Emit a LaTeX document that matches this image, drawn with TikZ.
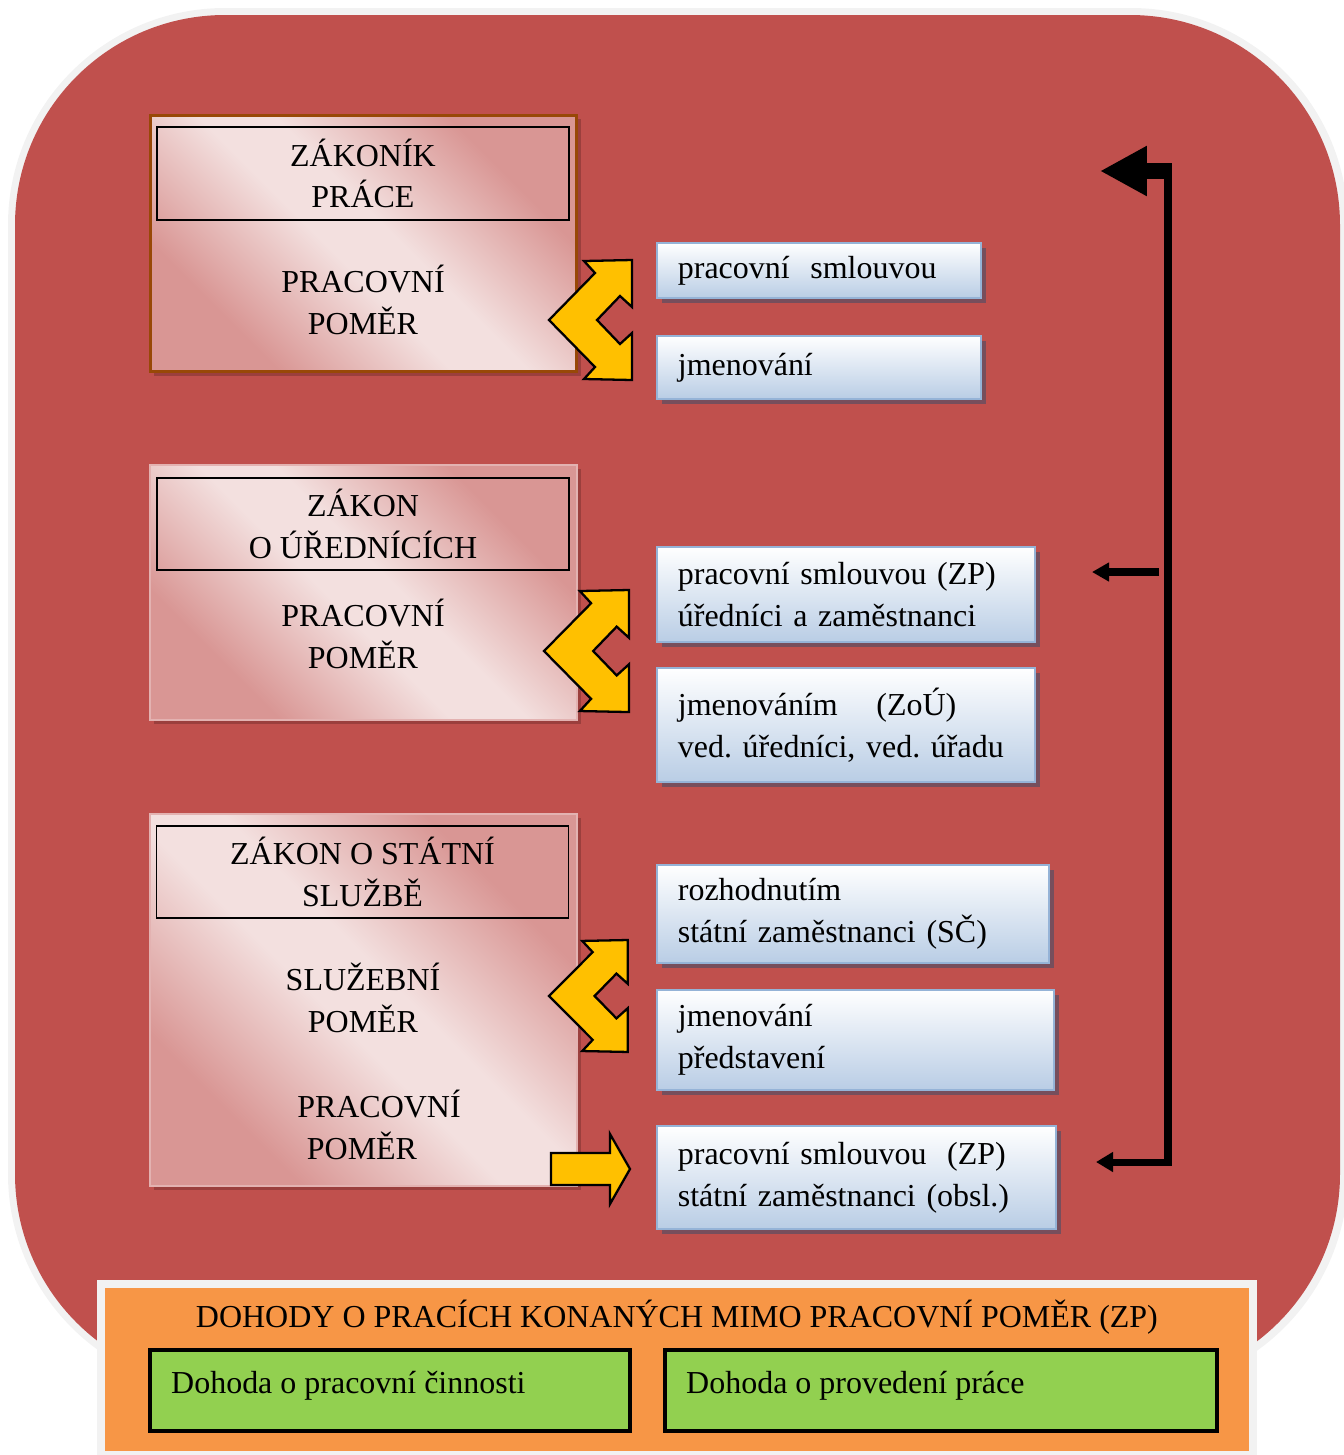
\documentclass[tikz,border=0pt]{standalone}
\usepackage{fontspec}
\setmainfont{Liberation Serif}
\usetikzlibrary{arrows.meta,shadows}

\definecolor{redbg}{HTML}{C0504D}
\definecolor{ringgray}{HTML}{F2F2F2}
\definecolor{pinkdark}{HTML}{D99694}
\definecolor{pinklight}{HTML}{F3E0DF}
\definecolor{pinkedge}{HTML}{E3B2B1}
\definecolor{brownbd}{HTML}{984807}
\definecolor{bluebot}{HTML}{B9CDE5}
\definecolor{bluebd}{HTML}{95B3D7}
\definecolor{yellowar}{HTML}{FFC000}
\definecolor{orangebx}{HTML}{F79646}
\definecolor{greenbx}{HTML}{92D050}
\definecolor{shadowblue}{HTML}{774E5C}
\definecolor{shadowred}{HTML}{9B3F3D}

\pgfdeclarehorizontalshading{pinkband}{100bp}{color(0bp)=(pinkdark); color(28bp)=(pinkdark); color(46bp)=(pinklight); color(54bp)=(pinklight); color(72bp)=(pinkdark); color(100bp)=(pinkdark)}

\tikzset{
  every node/.style={font=\fontsize{18.2}{23.8}\selectfont\frenchspacing},
  lawbox/.style={draw=pinkedge, line width=1pt, shading=pinkband, shading angle=45,
    minimum width=8.54cm,
    drop shadow={shadow xshift=0.08cm, shadow yshift=-0.08cm, fill=shadowred, opacity=1}},
  lawtitle/.style={draw=black, line width=1pt, minimum width=8.24cm, minimum height=1.85cm, align=center},
  pomerlabel/.style={align=center},
  bluebox/.style={draw=bluebd, line width=1pt, top color=white, bottom color=bluebot,
    anchor=north west, inner xsep=0.42cm, align=left, text width=#1,
    drop shadow={shadow xshift=0.1cm, shadow yshift=-0.1cm, fill=shadowblue, opacity=1}},
  yarrow/.style={draw=black, fill=yellowar, line width=1.3pt, line join=miter},
  conn/.style={line width=4pt},
  dohoda/.style={draw=black, fill=greenbx, line width=2.2pt, minimum height=1.62cm}
}

% two headed bent arrow: apex x, top y, xscale, yscale
\newcommand{\dvojsipka}[4]{%
  \draw[yarrow, shift={(#1,#2)}, xscale=#3, yscale=#4]
    (0,60) -- (46,13) -- (35,1) -- (83,0) -- (83,47) -- (71,36) -- (48,60)
    -- (71,84) -- (83,73) -- (83,120) -- (35,119) -- (46,107) -- cycle;}

\begin{document}
\begin{tikzpicture}[x=0.02cm, y=-0.02cm]
\useasboundingbox (0,0) rectangle (1344,1455);
% background
\fill[ringgray, rounded corners=4.34cm] (8,8) rectangle (1348,1391);
\fill[redbg, rounded corners=4.2cm] (15,15) rectangle (1340,1384);

% zakonik prace
\node[lawbox, draw=brownbd, line width=1.7pt, minimum height=5.14cm] (zp) at (363.5,243.5) {};
\node[lawtitle] (zptitle) at (363,173.5) {ZÁKONÍK\\PRÁCE};
\node[pomerlabel] (zppomer) at (363,300) {PRACOVNÍ\\POMĚR};

% zakon o urednicich
\node[lawbox, minimum height=5.10cm] (zou) at (363.5,592.5) {};
\node[lawtitle] (zoutitle) at (363,524) {ZÁKON\\O ÚŘEDNÍCÍCH};
\node[pomerlabel] (zoupomer) at (363,634) {PRACOVNÍ\\POMĚR};

% zakon o statni sluzbe
\node[lawbox, minimum height=7.44cm] (zss) at (363.5,1000) {};
\node[lawtitle] (zsstitle) at (362.5,872) {ZÁKON O STÁTNÍ\\SLUŽBĚ};
\node[pomerlabel] (zsssluz) at (363,998) {SLUŽEBNÍ\\POMĚR};
\node[pomerlabel] (zsspomer) at (362,1125) {\hspace*{0.68cm}PRACOVNÍ\\POMĚR};

% ways of starting
\node[bluebox=5.64cm, minimum height=1.10cm] (ps1) at (656,242) {pracovní\hspace{0.2cm} smlouvou};
\node[bluebox=5.64cm, minimum height=1.26cm] (jm1) at (656,335) {jmenování};
\node[bluebox=6.72cm, minimum height=1.90cm] (ps2) at (656,546) {pracovní smlouvou (ZP)\\úředníci a zaměstnanci};
\node[bluebox=6.72cm, minimum height=2.28cm] (jm2) at (656,667) {jmenováním\hspace{0.56cm} (ZoÚ)\\ved. úředníci, ved. úřadu\\[-0.28cm]};
\node[bluebox=7.00cm, minimum height=1.96cm] (roz) at (656,864) {rozhodnutím\\státní zaměstnanci (SČ)};
\node[bluebox=7.10cm, minimum height=2.00cm] (jm3) at (656,989) {jmenování\\představení};
\node[bluebox=7.14cm, minimum height=2.06cm] (ps3) at (656,1125) {pracovní smlouvou\hspace{0.2cm} (ZP)\\státní zaměstnanci (obsl.)};

% yellow arrows
\dvojsipka{549}{260}{1}{1}
\dvojsipka{544}{590}{1.024}{1.017}
\dvojsipka{549}{940}{0.95}{0.933}
\draw[yarrow] (551,1153) -- (610,1153) -- (610,1134) -- (630,1169) -- (610,1204)
  -- (610,1185) -- (551,1185) -- cycle;

% connector on the right
\coordinate (horniohyb) at (1168,171);
\coordinate (hornikonec) at (1171.5,171);
\coordinate (hornihrot) at (1100,171);
\coordinate (dolnihrot) at (1096,1162);
\coordinate (stredstart) at (1159,572);
\coordinate (stredhrot) at (1092,572);
\draw[conn, -{Triangle[length=0.34cm,width=0.38cm]}] (horniohyb) |- (dolnihrot);
\draw[line width=9pt, -{Triangle[length=0.94cm,width=0.94cm]}] (hornikonec) -- (hornihrot);
\draw[conn, -{Triangle[length=0.34cm,width=0.36cm]}] (stredstart) -- (stredhrot);

% dohody
\fill[ringgray] (97,1280) rectangle (1257,1455);
\fill[orangebx] (105,1288) rectangle (1249,1451);
\node[anchor=base] (dohody) at (677,1327) {DOHODY O PRACÍCH KONANÝCH MIMO PRACOVNÍ POMĚR (ZP)};
\node[dohoda, minimum width=9.60cm] (dpc) at (390,1390.5) {};
\node[dohoda, minimum width=11.04cm] (dpp) at (941,1390.5) {};
\node[anchor=base west] (dpctext) at (165,1393) {Dohoda o pracovní činnosti};
\node[anchor=base west] (dpptext) at (680,1393) {Dohoda o provedení práce};
\end{tikzpicture}
\end{document}
